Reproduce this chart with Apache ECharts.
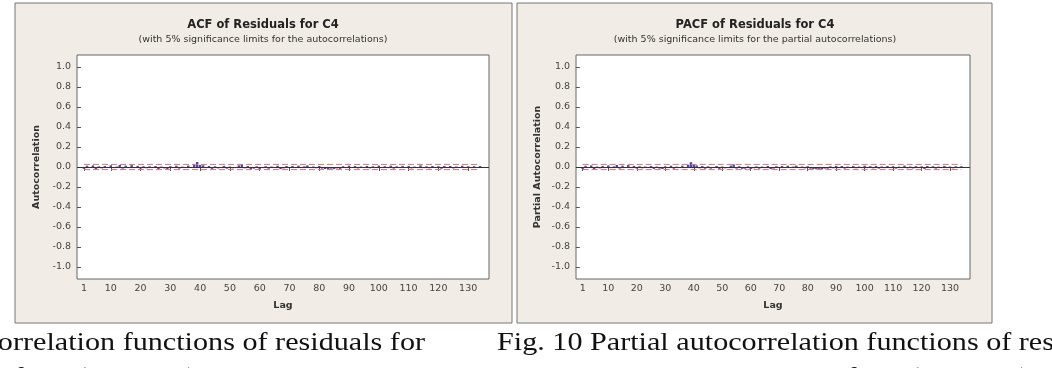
<!DOCTYPE html>
<html>
<head>
<meta charset="utf-8">
<script src="https://cdn.jsdelivr.net/npm/echarts@6.0.0/dist/echarts.min.js"></script>
<style>
  html, body { margin: 0; padding: 0; background: #fff; }
  #chart { width: 1052px; height: 368px; }
</style>
</head>
<body>
<div id="chart"></div>
<script>
// lags 1..134
const lags = [];
for (let i = 1; i <= 134; i++) lags.push(i);

const acfValues = [
  -0.019, 0.013, -0.010, 0.016, -0.022, 0.007, -0.014, 0.010, -0.007, 0.017,
  -0.011, 0.005, 0.021, -0.016, 0.014, -0.008, 0.019, -0.005, 0.011, -0.017,
  0.008, -0.013, 0.007, -0.004, 0.010, -0.020, 0.005, -0.014, -0.021, 0.008,
  -0.010, 0.013, -0.016, 0.004, -0.007, 0.014, -0.005, 0.024, 0.050, 0.021,
  0.017, -0.011, 0.010, -0.019, 0.007, -0.014, -0.010, 0.011, -0.017, 0.005,
  -0.013, -0.008, 0.016, 0.028, -0.014, 0.010, -0.020, -0.016, 0.007, -0.019,
  -0.011, 0.008, -0.017, 0.005, -0.010, 0.013, -0.021, -0.014, 0.010, -0.007,
  0.011, -0.005, 0.014, -0.010, 0.007, 0.016, -0.008, 0.005, -0.013, 0.010,
  -0.016, -0.020, -0.023, -0.017, -0.021, -0.014, -0.019, 0.008, -0.011, 0.013,
  -0.007, 0.010, -0.014, 0.005, -0.008, 0.011, -0.013, 0.007, -0.010, 0.014,
  -0.005, 0.008, -0.011, 0.013, -0.016, 0.007, -0.010, 0.011, -0.007, 0.010,
  -0.014, 0.005, -0.008, 0.016, -0.011, 0.007, -0.013, 0.010, -0.005, 0.008,
  -0.017, 0.011, -0.007, 0.010, -0.014, 0.005, -0.010, 0.013, -0.008, 0.007,
  -0.011, 0.008, -0.005, 0.010
];

const pacfValues = [
  -0.019, 0.012, -0.010, 0.016, -0.021, 0.005, -0.014, 0.011, -0.007, 0.016,
  -0.011, 0.007, 0.020, -0.016, 0.013, -0.008, 0.019, -0.007, 0.011, -0.016,
  0.008, -0.013, 0.005, -0.004, 0.010, -0.019, 0.005, -0.016, -0.020, 0.007,
  -0.010, 0.013, -0.017, 0.004, -0.008, 0.013, -0.005, 0.023, 0.048, 0.020,
  0.016, -0.013, 0.010, -0.017, 0.007, -0.016, -0.010, 0.010, -0.019, 0.005,
  -0.013, -0.010, 0.014, 0.026, -0.016, 0.008, -0.019, -0.017, 0.007, -0.020,
  -0.013, 0.007, -0.017, 0.005, -0.011, 0.011, -0.020, -0.016, 0.008, -0.007,
  0.010, -0.007, 0.013, -0.010, 0.005, 0.014, -0.010, 0.005, -0.014, 0.008,
  -0.017, -0.020, -0.022, -0.019, -0.020, -0.016, -0.017, 0.007, -0.013, 0.011,
  -0.008, 0.010, -0.016, 0.005, -0.010, 0.010, -0.013, 0.005, -0.011, 0.013,
  -0.007, 0.008, -0.013, 0.011, -0.016, 0.005, -0.011, 0.010, -0.008, 0.008,
  -0.016, 0.004, -0.010, 0.014, -0.013, 0.005, -0.014, 0.008, -0.007, 0.007,
  -0.019, 0.010, -0.008, 0.008, -0.016, 0.004, -0.011, 0.011, -0.010, 0.005,
  -0.013, 0.007, -0.007, 0.008
];

// 5% significance limit (about +/- 2/sqrt(n))
const sigLimit = 0.026;
const xTicks = [1, 10, 20, 30, 40, 50, 60, 70, 80, 90, 100, 110, 120, 130];
const yTicks = [-1.0, -0.8, -0.6, -0.4, -0.2, 0.0, 0.2, 0.4, 0.6, 0.8, 1.0];

const font = "DejaVu Sans";
const panelBg = "#f1ede6";

function xAxisFor(idx) {
  return {
    type: "value", gridIndex: idx, min: -1.35, max: 137,
    name: "Lag", nameLocation: "middle", nameGap: 22,
    nameTextStyle: { fontFamily: font, fontSize: 9.5, fontWeight: "bold", color: "#333" },
    axisLine: { show: false },
    splitLine: { show: false },
    axisTick: { show: true, customValues: xTicks, length: 4, lineStyle: { color: "#555" } },
    axisLabel: { customValues: xTicks, fontFamily: font, fontSize: 9.5, color: "#444", margin: 5 }
  };
}

function yAxisFor(idx, name, gap) {
  return {
    type: "value", gridIndex: idx, min: -1.12, max: 1.12,
    name: name, nameLocation: "middle", nameGap: gap, nameRotate: 90,
    nameTextStyle: { fontFamily: font, fontSize: 9.5, fontWeight: "bold", color: "#333" },
    axisLine: { show: false },
    splitLine: { show: false },
    axisTick: { show: true, customValues: yTicks, length: 4, lineStyle: { color: "#555" } },
    axisLabel: {
      customValues: yTicks, fontFamily: font, fontSize: 9.5, color: "#444", margin: 6,
      formatter: v => v.toFixed(1)
    }
  };
}

function seriesFor(idx, values) {
  return [
    {
      type: "bar", xAxisIndex: idx, yAxisIndex: idx, barWidth: 2.4,
      data: lags.map((l, i) => [l, values[i]]),
      itemStyle: { color: "#4a46b0" },
      markLine: {
        silent: true, symbol: "none", label: { show: false },
        lineStyle: { color: "#333", type: "solid", width: 1 },
        data: [{ yAxis: 0 }]
      }
    },
    {
      type: "line", xAxisIndex: idx, yAxisIndex: idx, symbol: "none",
      data: [[lags[0], sigLimit], [lags[lags.length - 1], sigLimit]],
      lineStyle: { color: "#e07070", type: [6, 3], width: 1 }
    },
    {
      type: "line", xAxisIndex: idx, yAxisIndex: idx, symbol: "none",
      data: [[lags[0], -sigLimit], [lags[lags.length - 1], -sigLimit]],
      lineStyle: { color: "#e07070", type: [6, 3], width: 1 }
    }
  ];
}

function caption(text, x, y, align) {
  return {
    type: "text", x: x, y: y, scaleX: 1.16,
    style: { text: text, font: "26px 'Liberation Serif'", fill: "#111", textAlign: align, textVerticalAlign: "middle" }
  };
}

const chart = echarts.init(document.getElementById("chart"));
chart.setOption({
  animation: false,
  backgroundColor: "#fff",
  grid: [
    { left: 77, top: 55, width: 412, height: 224, show: true, backgroundColor: "#fff", borderColor: "#666", borderWidth: 1 },
    { left: 576, top: 55, width: 394, height: 224, show: true, backgroundColor: "#fff", borderColor: "#666", borderWidth: 1 }
  ],
  xAxis: [xAxisFor(0), xAxisFor(1)],
  yAxis: [yAxisFor(0, "Autocorrelation", 35), yAxisFor(1, "Partial Autocorrelation", 33)],
  series: [...seriesFor(0, acfValues), ...seriesFor(1, pacfValues)],
  graphic: [
    { type: "rect", z: -10, shape: { x: 15, y: 3, width: 497, height: 320 },
      style: { fill: panelBg, stroke: "#777", lineWidth: 1 } },
    { type: "rect", z: -10, shape: { x: 517, y: 3, width: 475, height: 320 },
      style: { fill: panelBg, stroke: "#777", lineWidth: 1 } },
    { type: "text", x: 263, y: 25, style: { text: "ACF of Residuals for C4", font: "bold 11.5px " + font,
      fill: "#222", textAlign: "center", textVerticalAlign: "middle" } },
    { type: "text", x: 263, y: 40, style: { text: "(with 5% significance limits for the autocorrelations)",
      font: "9.5px " + font, fill: "#333", textAlign: "center", textVerticalAlign: "middle" } },
    { type: "text", x: 755, y: 25, style: { text: "PACF of Residuals for C4", font: "bold 11.5px " + font,
      fill: "#222", textAlign: "center", textVerticalAlign: "middle" } },
    { type: "text", x: 755, y: 40, style: { text: "(with 5% significance limits for the partial autocorrelations)",
      font: "9.5px " + font, fill: "#333", textAlign: "center", textVerticalAlign: "middle" } },
    caption("Fig. 9 Autocorrelation functions of residuals for", 425, 343, "right"),
    caption("daily flow (ARIMA)", 197, 378, "right"),
    caption("Fig. 10 Partial autocorrelation functions of residuals for", 497, 343, "left"),
    caption("daily flow (ARIMA)", 1030, 378, "right")
  ]
});
</script>
</body>
</html>
